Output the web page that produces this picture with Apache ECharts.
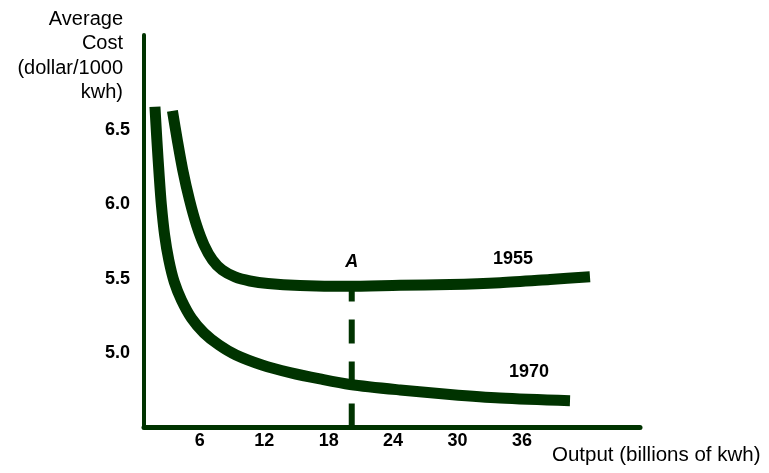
<!DOCTYPE html>
<html>
<head>
<meta charset="utf-8">
<script src="https://cdn.jsdelivr.net/npm/echarts@6/dist/echarts.min.js"></script>
<style>html,body{margin:0;padding:0;background:#fff;}#c{width:769px;height:473px;}</style>
</head>
<body>
<div id="c"></div>
<script>
// Data
var xTicks = [6, 12, 18, 24, 30, 36];
var yTicks = [5.0, 5.5, 6.0, 6.5];
var curve1955 = [[3.45,6.626],[3.90,6.431],[4.41,6.229],[5.04,6.028],[5.69,5.860],[6.39,5.726],[7.18,5.625],[8.07,5.558],[9.28,5.511],[10.67,5.484],[12.35,5.467],[15.33,5.454],[19.71,5.448],[24.65,5.455],[29.30,5.460],[33.96,5.472],[38.62,5.494],[42.34,5.513]];
var curve1970 = [[1.82,6.654],[2.00,6.431],[2.21,6.196],[2.42,5.994],[2.72,5.793],[3.11,5.625],[3.62,5.477],[4.29,5.356],[5.22,5.235],[6.39,5.135],[7.79,5.054],[9.37,4.987],[11.79,4.920],[14.40,4.869],[17.19,4.826],[19.99,4.789],[24.65,4.752],[29.30,4.722],[33.96,4.698],[40.48,4.68]];
var pointA = [[20.15,4.5],[20.15,5.45]];
var annotations = [
  {name:'A', value:[20.15,5.61], italic:true},
  {name:'1955', value:[35.17,5.63]},
  {name:'1970', value:[36.66,4.87]}
];
var yName = 'Average\nCost\n(dollar/1000\nkwh)';
var xName = 'Output (billions of kwh)';

var green = '#003300';
var chart = echarts.init(document.getElementById('c'), null, {renderer:'canvas'});
chart.setOption({
  animation:false,
  backgroundColor:'#fff',
  grid:{left:144, top:35, width:496, bottom:45.5},
  xAxis:{
    type:'value', min:0.8, max:47,
    axisLine:{show:true, onZero:false, lineStyle:{color:green, width:5}},
    axisTick:{show:false},
    splitLine:{show:false},
    axisLabel:{customValues:xTicks, margin:5, color:'#000', fontFamily:'Liberation Sans, Arial', fontWeight:'bold', fontSize:18}
  },
  yAxis:{
    type:'value', min:4.5, max:7.136,
    axisLine:{show:true, onZero:false, lineStyle:{color:green, width:4}},
    axisTick:{show:false},
    splitLine:{show:false},
    axisLabel:{customValues:yTicks, margin:14, color:'#000', fontFamily:'Liberation Sans, Arial', fontWeight:'bold', fontSize:18,
      formatter:function(v){return Number(v).toFixed(1);}}
  },
  graphic:[
    {type:'text', x:123, y:7, style:{text:yName, align:'right', verticalAlign:'top', font:'20px "Liberation Sans", Arial', lineHeight:24.5, fill:'#000'}},
    {type:'text', x:552, y:445, style:{text:xName, align:'left', verticalAlign:'top', font:'20.5px "Liberation Sans", Arial', fill:'#000'}}
  ],
  series:[
    {type:'line', data:curve1955, smooth:0.3, symbol:'none', clip:false,
      lineStyle:{color:green, width:11, cap:'butt', join:'round'}},
    {type:'line', data:curve1970, smooth:0.3, symbol:'none', clip:false,
      lineStyle:{color:green, width:11, cap:'butt', join:'round'}},
    {type:'line', data:pointA, symbol:'none', z:1,
      lineStyle:{color:green, width:6, type:[24,18], cap:'butt'}},
    {type:'scatter', symbolSize:0, z:5, itemStyle:{opacity:1}, data:annotations.map(function(a){
      return {name:a.name, value:a.value, label:{fontStyle:a.italic?'italic':'normal', color:'#000'}};
    }),
      emphasis:{disabled:true},
      label:{show:true, position:'inside', formatter:'{b}', color:'#000', fontFamily:'Liberation Sans, Arial', fontWeight:'bold', fontSize:18}}
  ]
});
</script>
</body>
</html>
